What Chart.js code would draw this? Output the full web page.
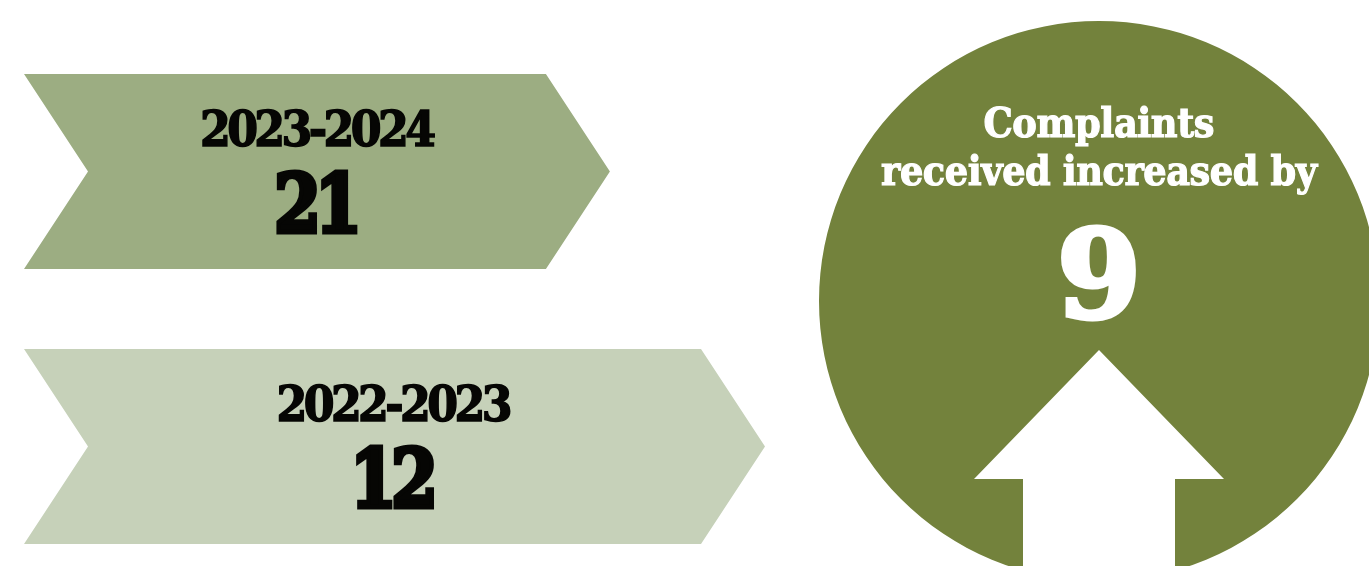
<!DOCTYPE html>
<html>
<head>
<meta charset="utf-8">
<title>Complaints received</title>
<script src="https://cdn.jsdelivr.net/npm/chart.js"></script>
<style>
  html, body { margin: 0; padding: 0; background: #ffffff; overflow: hidden; }
  #page { position: relative; width: 1369px; height: 566px; overflow: hidden; }
  #bars-chart { position: absolute; left: 0; top: 0; }
  #change-chart { position: absolute; left: 819px; top: 21px; }
</style>
</head>
<body>
<div id="page">
  <canvas id="bars-chart" width="800" height="566"></canvas>
  <canvas id="change-chart" width="560" height="560"></canvas>
</div>
<script>
// Complaints per reporting year
const years = ['2023-2024', '2022-2023'];
const complaints = [21, 12];
const barColors = ['#9cad82', '#c6d1b9'];

// Year-on-year change
const changeLabels = ['Complaints received increased by'];
const changeValues = [9];
const changeHeading = ['Complaints', 'received increased by'];

const SLAB = '"DejaVu Serif", serif';

// Draw a line of text squeezed to a given width, with a stroke to thicken it
function drawFitted(ctx, text, cx, baseline, width, fontPx, color, weight, tracking) {
    ctx.save();
    ctx.font = 'bold ' + fontPx + 'px ' + SLAB;
    ctx.letterSpacing = (tracking || 0) + 'px';
    ctx.textAlign = 'left';
    ctx.textBaseline = 'alphabetic';
    const natural = ctx.measureText(text).width - (tracking || 0);
    const squeeze = width / natural;
    ctx.translate(cx - width / 2, baseline);
    ctx.scale(squeeze, 1);
    ctx.fillStyle = color;
    ctx.fillText(text, 0, 0);
    if (weight) {
        ctx.strokeStyle = color;
        ctx.lineWidth = weight;
        ctx.lineJoin = 'miter';
        ctx.strokeText(text, 0, 0);
    }
    ctx.restore();
}

// Paints each bar of the dataset as a chevron with its label and value inside
const chevronBars = {
    id: 'chevronBars',
    beforeDatasetDraw(chart, args) {
        const ctx = chart.ctx;
        const notch = 64;
        args.meta.data.forEach((bar, i) => {
            const top = bar.y - bar.height / 2;
            const bottom = bar.y + bar.height / 2;
            ctx.save();
            ctx.fillStyle = barColors[i];
            ctx.beginPath();
            ctx.moveTo(bar.base, top);
            ctx.lineTo(bar.x - notch, top);
            ctx.lineTo(bar.x, bar.y);
            ctx.lineTo(bar.x - notch, bottom);
            ctx.lineTo(bar.base, bottom);
            ctx.lineTo(bar.base + notch, bar.y);
            ctx.closePath();
            ctx.fill();
            ctx.restore();

            const cx = (bar.base + bar.x) / 2;
            drawFitted(ctx, years[i], cx + (i === 0 ? 1 : 0), bar.y - 26, 236, 49, '#060604', 1.6, -4);
            drawFitted(ctx, String(complaints[i]), cx + (i === 0 ? 1 : -0.5), bar.y + 60.5, 88, 80, '#060604', 5, -7);
        });
        return false;
    }
};

new Chart(document.getElementById('bars-chart'), {
    type: 'bar',
    data: {
        labels: years,
        datasets: [{
            data: complaints,
            base: 55,
            barThickness: 195,
            backgroundColor: barColors
        }]
    },
    options: {
        indexAxis: 'y',
        responsive: false,
        animation: false,
        layout: { padding: { left: 24, right: 35, top: 171.5, bottom: 119.5 } },
        plugins: { legend: { display: false }, tooltip: { enabled: false } },
        scales: {
            // Shorter complaints figure sits on the longer arrow, so the axis runs backwards
            x: { display: false, reverse: true, min: 12, max: 55 },
            y: { display: false, offset: false }
        }
    },
    plugins: [chevronBars]
});

// White arrow and wording on top of the disc
const changeOverlay = {
    id: 'changeOverlay',
    afterDatasetsDraw(chart) {
        const ctx = chart.ctx;
        const cx = chart.width / 2;

        ctx.save();
        ctx.fillStyle = '#ffffff';
        ctx.beginPath();
        ctx.moveTo(cx, 329);
        ctx.lineTo(cx + 125, 458);
        ctx.lineTo(cx + 76, 458);
        ctx.lineTo(cx + 76, 560);
        ctx.lineTo(cx - 76, 560);
        ctx.lineTo(cx - 76, 458);
        ctx.lineTo(cx - 125, 458);
        ctx.closePath();
        ctx.fill();
        ctx.restore();

        drawFitted(ctx, changeHeading[0], cx, 116, 231, 41, '#ffffff', 1.2, -0.5);
        drawFitted(ctx, changeHeading[1], cx, 164, 436, 41, '#ffffff', 1.2, -0.5);
        drawFitted(ctx, String(changeValues[0]), cx, 296, 84, 122, '#ffffff', 5, 0);
    }
};

new Chart(document.getElementById('change-chart'), {
    type: 'pie',
    data: {
        labels: changeLabels,
        datasets: [{
            data: changeValues,
            backgroundColor: ['#73823c'],
            borderWidth: 0
        }]
    },
    options: {
        responsive: false,
        animation: false,
        plugins: { legend: { display: false }, tooltip: { enabled: false } }
    },
    plugins: [changeOverlay]
});
</script>
</body>
</html>
